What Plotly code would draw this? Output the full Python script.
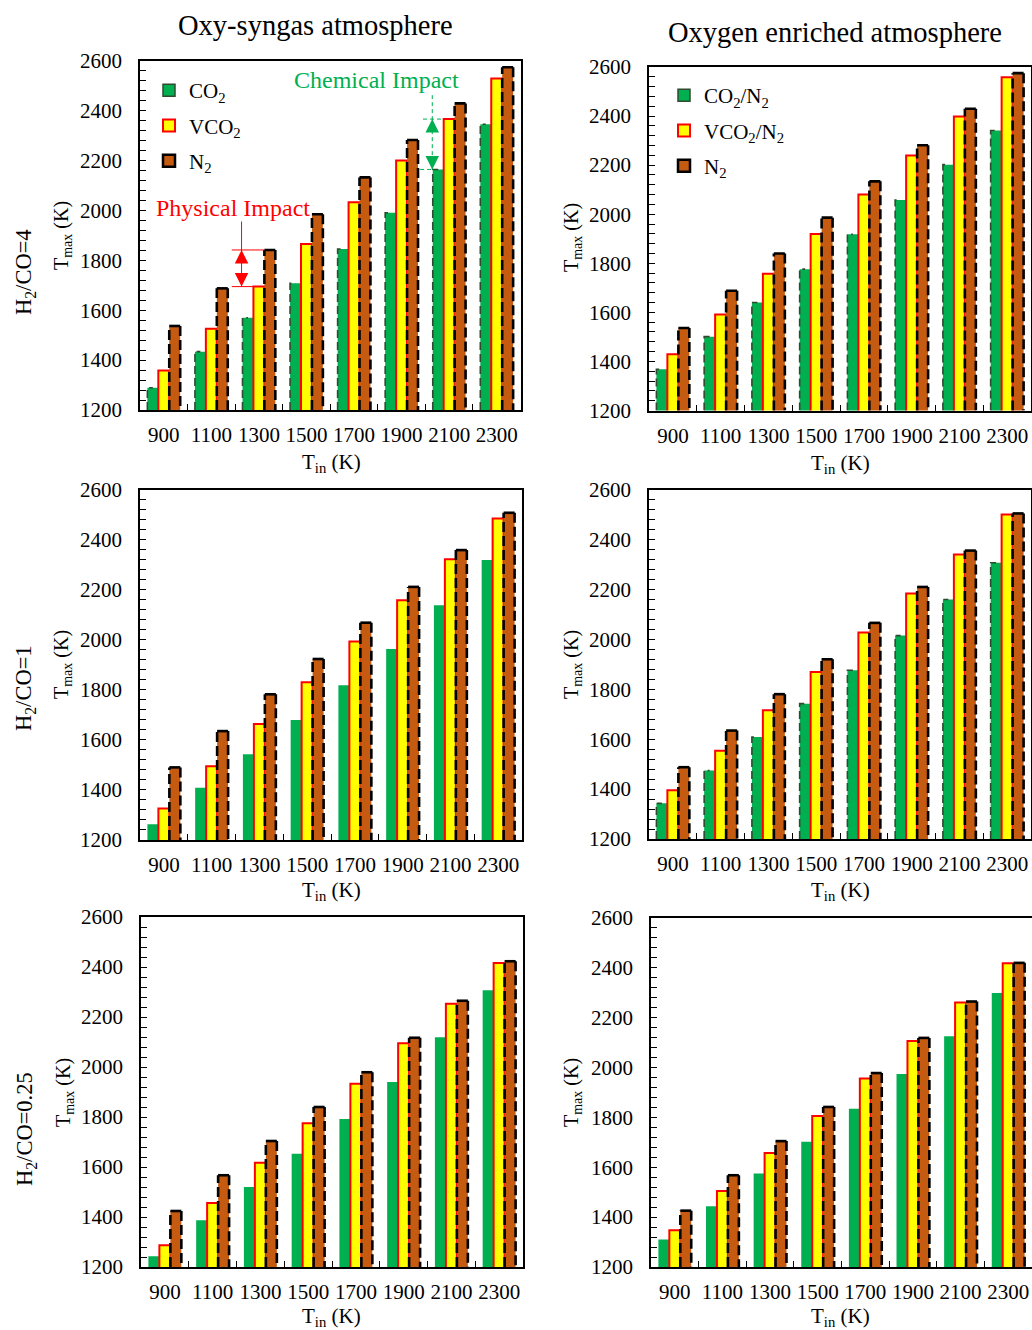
import plotly.graph_objects as go

W, H = 1032, 1330
FONT = "Liberation Serif"

# ---------------- data ----------------
T_in = [900, 1100, 1300, 1500, 1700, 1900, 2100, 2300]
tick_labels = ["900", "1100", "1300", "1500", "1700", "1900", "2100", "2300"]

# Oxy-syngas atmosphere (left column)
oxy_r4_co2 = [1289, 1434, 1570, 1708, 1846, 1991, 2165, 2346]
oxy_r4_vco2 = [1358, 1526, 1695, 1866, 2033, 2201, 2367, 2530]
oxy_r4_n2 = [1537, 1688, 1842, 1985, 2133, 2283, 2430, 2575]

oxy_r1_co2 = [1263, 1409, 1543, 1679, 1818, 1963, 2138, 2318]
oxy_r1_vco2 = [1326, 1495, 1663, 1830, 1993, 2158, 2321, 2484]
oxy_r1_n2 = [1490, 1635, 1782, 1923, 2068, 2211, 2358, 2507]

oxy_r025_co2 = [1243, 1387, 1520, 1653, 1792, 1940, 2119, 2307]
oxy_r025_vco2 = [1287, 1456, 1617, 1775, 1933, 2095, 2253, 2416]
oxy_r025_n2 = [1424, 1567, 1704, 1840, 1979, 2117, 2265, 2423]

# Oxygen enriched atmosphere (right column)
enr_r4_co2 = [1368, 1501, 1640, 1776, 1918, 2058, 2202, 2341]
enr_r4_vco2 = [1429, 1591, 1757, 1919, 2080, 2239, 2398, 2558]
enr_r4_n2 = [1536, 1688, 1840, 1986, 2134, 2281, 2430, 2575]

enr_r1_co2 = [1343, 1475, 1609, 1743, 1877, 2016, 2161, 2308]
enr_r1_vco2 = [1396, 1554, 1716, 1870, 2028, 2185, 2341, 2502]
enr_r1_n2 = [1488, 1635, 1781, 1921, 2067, 2211, 2357, 2506]

enr_r025_co2 = [1310, 1444, 1575, 1702, 1835, 1974, 2126, 2299]
enr_r025_vco2 = [1347, 1505, 1657, 1806, 1956, 2107, 2261, 2418]
enr_r025_n2 = [1426, 1568, 1705, 1842, 1978, 2119, 2265, 2420]

Y_MIN, Y_MAX = 1200, 2600

GREEN, YELLOW, BROWN, RED = "#00B050", "#FFFF00", "#C55A11", "#FF0000"

# panel pixel boxes: (left, right, top, bottom)
panels = [
    dict(box=(140, 520.5, 61, 410), data=(oxy_r4_co2, oxy_r4_vco2, oxy_r4_n2), gdash=True),
    dict(box=(649, 1031, 67, 410.5), data=(enr_r4_co2, enr_r4_vco2, enr_r4_n2), gdash=True),
    dict(box=(140, 522, 489.5, 840), data=(oxy_r1_co2, oxy_r1_vco2, oxy_r1_n2), gdash=False),
    dict(box=(649, 1031, 490, 839), data=(enr_r1_co2, enr_r1_vco2, enr_r1_n2), gdash=True),
    dict(box=(141, 523, 917, 1267), data=(oxy_r025_co2, oxy_r025_vco2, oxy_r025_n2), gdash=False),
    dict(box=(651, 1032, 918, 1267), data=(enr_r025_co2, enr_r025_vco2, enr_r025_n2), gdash=False),
]

BW = 0.23  # bar width in category units
def off(k):
    return -1.5 * BW + k * BW

fig = go.Figure()
layout = dict(
    width=W, height=H, margin=dict(l=0, r=0, t=0, b=0, autoexpand=False),
    paper_bgcolor="white", plot_bgcolor="white",
    barmode="overlay", showlegend=True,
    font=dict(family=FONT, color="black", size=21),
)

idx = list(range(len(T_in)))
for p_i, p in enumerate(panels):
    n = p_i + 1
    xa = "x" if n == 1 else f"x{n}"
    ya = "y" if n == 1 else f"y{n}"
    l, r, t, b = p["box"]
    co2, vco2, n2 = p["data"]
    fills = [GREEN, YELLOW, BROWN]
    lines = [dict(width=0), dict(color=RED, width=2), dict(width=0)]
    for k, vals in enumerate((co2, vco2, n2)):
        fig.add_trace(go.Bar(
            x=idx, y=vals, width=BW, offset=off(k), xaxis=xa, yaxis=ya,
            marker=dict(color=fills[k], line=lines[k]), showlegend=False,
            hoverinfo="skip"))
    # dashed outline of N2 bars (sides dashed, top solid)
    sx, sy, tx, ty = [], [], [], []
    for i, v in enumerate(n2):
        left = i + off(2)
        right = left + BW
        sx += [left, left, None, right, right, None]
        sy += [Y_MIN, v, None, v, Y_MIN, None]
        tx += [left, right, None]
        ty += [v, v, None]
    fig.add_trace(go.Scatter(x=sx, y=sy, mode="lines", xaxis=xa, yaxis=ya,
                             line=dict(color="black", width=2.6, dash="10px,4px"),
                             showlegend=False, hoverinfo="skip"))
    fig.add_trace(go.Scatter(x=tx, y=ty, mode="lines", xaxis=xa, yaxis=ya,
                             line=dict(color="black", width=2.6),
                             showlegend=False, hoverinfo="skip"))
    if p["gdash"]:
        gx, gy = [], []
        for i, v in enumerate(co2):
            left = i + off(0)
            gx += [left, left, left + BW * 0.5, None]
            gy += [Y_MIN, v, v, None]
        fig.add_trace(go.Scatter(x=gx, y=gy, mode="lines", xaxis=xa, yaxis=ya,
                                 line=dict(color="#2f4a2f", width=1.6, dash="8px,4px"),
                                 showlegend=False, hoverinfo="skip"))

    layout["xaxis" if n == 1 else f"xaxis{n}"] = dict(
        domain=[l / W, r / W], anchor=ya, range=[-0.5, 7.5], automargin=False,
        tickmode="array", tickvals=idx, ticktext=tick_labels, ticks="",
        minor=dict(tickmode="array", tickvals=[i + 0.5 for i in idx[:-1]],
                   ticks="inside", ticklen=6, tickcolor="black", tickwidth=1.3),
        showline=True, linecolor="black", linewidth=1.6, mirror=True,
        showgrid=False, zeroline=False, ticklabelstandoff=5,
        tickfont=dict(family=FONT, size=21, color="black"), fixedrange=True)
    layout["yaxis" if n == 1 else f"yaxis{n}"] = dict(
        domain=[1 - b / H, 1 - t / H], anchor=xa, range=[Y_MIN, Y_MAX], automargin=False,
        tickmode="array", tickvals=list(range(1200, 2601, 200)),
        ticks="inside", ticklen=6, tickcolor="black", tickwidth=1.3,
        minor=dict(tick0=1200, dtick=40, ticks="inside", ticklen=6,
                   tickcolor="black", tickwidth=1.3),
        showline=True, linecolor="black", linewidth=1.6, mirror=True,
        showgrid=False, zeroline=False, ticklabelstandoff=12,
        tickfont=dict(family=FONT, size=21, color="black"), fixedrange=True)

# legend entries (legend-only swatches)
leg_left = ["CO<sub>2</sub>", "VCO<sub>2</sub>", "N<sub>2</sub>"]
leg_right = ["CO<sub>2</sub>/N<sub>2</sub>", "VCO<sub>2</sub>/N<sub>2</sub>", "N<sub>2</sub>"]
sw_lines = [dict(color="#2f4a2f", width=1.5), dict(color=RED, width=2), dict(color="black", width=2.5)]
fills = [GREEN, YELLOW, BROWN]
for names, lg, xa, ya in ((leg_left, "legend", "x", "y"), (leg_right, "legend2", "x2", "y2")):
    for k, nm in enumerate(names):
        fig.add_trace(go.Bar(x=[None], y=[None], name=nm, legend=lg, xaxis=xa, yaxis=ya,
                             legendgroup=f"{lg}{k}",
                             marker=dict(color=fills[k], line=sw_lines[k]), showlegend=True))

legend_common = dict(font=dict(family=FONT, size=21, color="black"), bgcolor="rgba(0,0,0,0)",
                     xanchor="left", yanchor="top", tracegroupgap=5, itemwidth=30)
layout["legend"] = dict(x=149 / W, y=1 - 70 / H, **legend_common)
layout["legend2"] = dict(x=664 / W, y=1 - 75 / H, **legend_common)

ann = []
def text(x, y, s, size=21, angle=0, color="black"):
    ann.append(dict(x=x / W, y=1 - y / H, xref="paper", yref="paper", text=s, showarrow=False,
                    textangle=angle, font=dict(family=FONT, size=size, color=color),
                    xanchor="center", yanchor="middle"))

text(315, 25, "Oxy-syngas atmosphere", size=28.5)
text(835, 33, "Oxygen enriched atmosphere", size=28.5)
text(25, 272, "H<sub>2</sub>/CO=4", size=22.5, angle=-90)
text(25, 688, "H<sub>2</sub>/CO=1", size=22.5, angle=-90)
text(26, 1129, "H<sub>2</sub>/CO=0.25", size=22.5, angle=-90)
for xc, yc in ((62, 236), (572, 238), (62, 665), (572, 665), (64, 1093), (572, 1093)):
    text(xc, yc, "T<sub>max</sub> (K)", size=20, angle=-90)
for xc, yc in ((331, 463), (840, 464), (331, 891), (840, 891), (331, 1317), (840, 1317)):
    text(xc, yc, "T<sub>in</sub> (K)", size=21)

# ---- Physical / Chemical impact annotations (top-left panel) ----
shapes = []
# Physical impact: between VCO2 and N2 at 1300 K
pi_i = T_in.index(1300)
px_arrow = pi_i + off(0) - 0.02
ann.append(dict(x=1.46, y=2012, xref="x", yref="y", text="Physical Impact", showarrow=False,
                font=dict(family=FONT, size=24, color=RED)))
shapes.append(dict(type="line", xref="x", yref="y", x0=px_arrow, x1=px_arrow,
                   y0=1956, y1=oxy_r4_vco2[pi_i], line=dict(color=RED, width=1)))
shapes.append(dict(type="line", xref="x", yref="y", x0=1.43, x1=pi_i + off(2),
                   y0=oxy_r4_n2[pi_i], y1=oxy_r4_n2[pi_i], line=dict(color=RED, width=1)))
shapes.append(dict(type="line", xref="x", yref="y", x0=1.43, x1=pi_i + off(1),
                   y0=oxy_r4_vco2[pi_i], y1=oxy_r4_vco2[pi_i], line=dict(color=RED, width=1)))
for yv, ay in ((oxy_r4_n2[pi_i], 15), (oxy_r4_vco2[pi_i], -15)):
    ann.append(dict(x=px_arrow, y=yv, xref="x", yref="y", ax=0, ay=ay, text="", showarrow=True,
                    arrowhead=2, arrowsize=2.25, arrowwidth=1.2, arrowcolor=RED, standoff=0))

# Chemical impact: between CO2 and VCO2 at 2100 K
ci_i = T_in.index(2100)
cx_arrow = ci_i + off(0) - 0.01
ann.append(dict(x=4.48, y=2522, xref="x", yref="y", text="Chemical Impact", showarrow=False,
                font=dict(family=FONT, size=24, color=GREEN)))
shapes.append(dict(type="line", xref="x", yref="y", x0=cx_arrow, x1=cx_arrow,
                   y0=2463, y1=oxy_r4_co2[ci_i], line=dict(color=GREEN, width=1, dash="4px,3px")))
shapes.append(dict(type="line", xref="x", yref="y", x0=5.45, x1=ci_i + off(1),
                   y0=oxy_r4_vco2[ci_i], y1=oxy_r4_vco2[ci_i], line=dict(color=GREEN, width=1, dash="4px,3px")))
shapes.append(dict(type="line", xref="x", yref="y", x0=5.39, x1=ci_i + off(0),
                   y0=oxy_r4_co2[ci_i], y1=oxy_r4_co2[ci_i], line=dict(color=GREEN, width=1, dash="4px,3px")))
for yv, ay in ((oxy_r4_vco2[ci_i], 15), (oxy_r4_co2[ci_i], -15)):
    ann.append(dict(x=cx_arrow, y=yv, xref="x", yref="y", ax=0, ay=ay, text="", showarrow=True,
                    arrowhead=2, arrowsize=2.25, arrowwidth=1.2, arrowcolor=GREEN, standoff=0))

layout["annotations"] = ann
layout["shapes"] = shapes
fig.update_layout(**layout)
fig.write_html("out.html")
